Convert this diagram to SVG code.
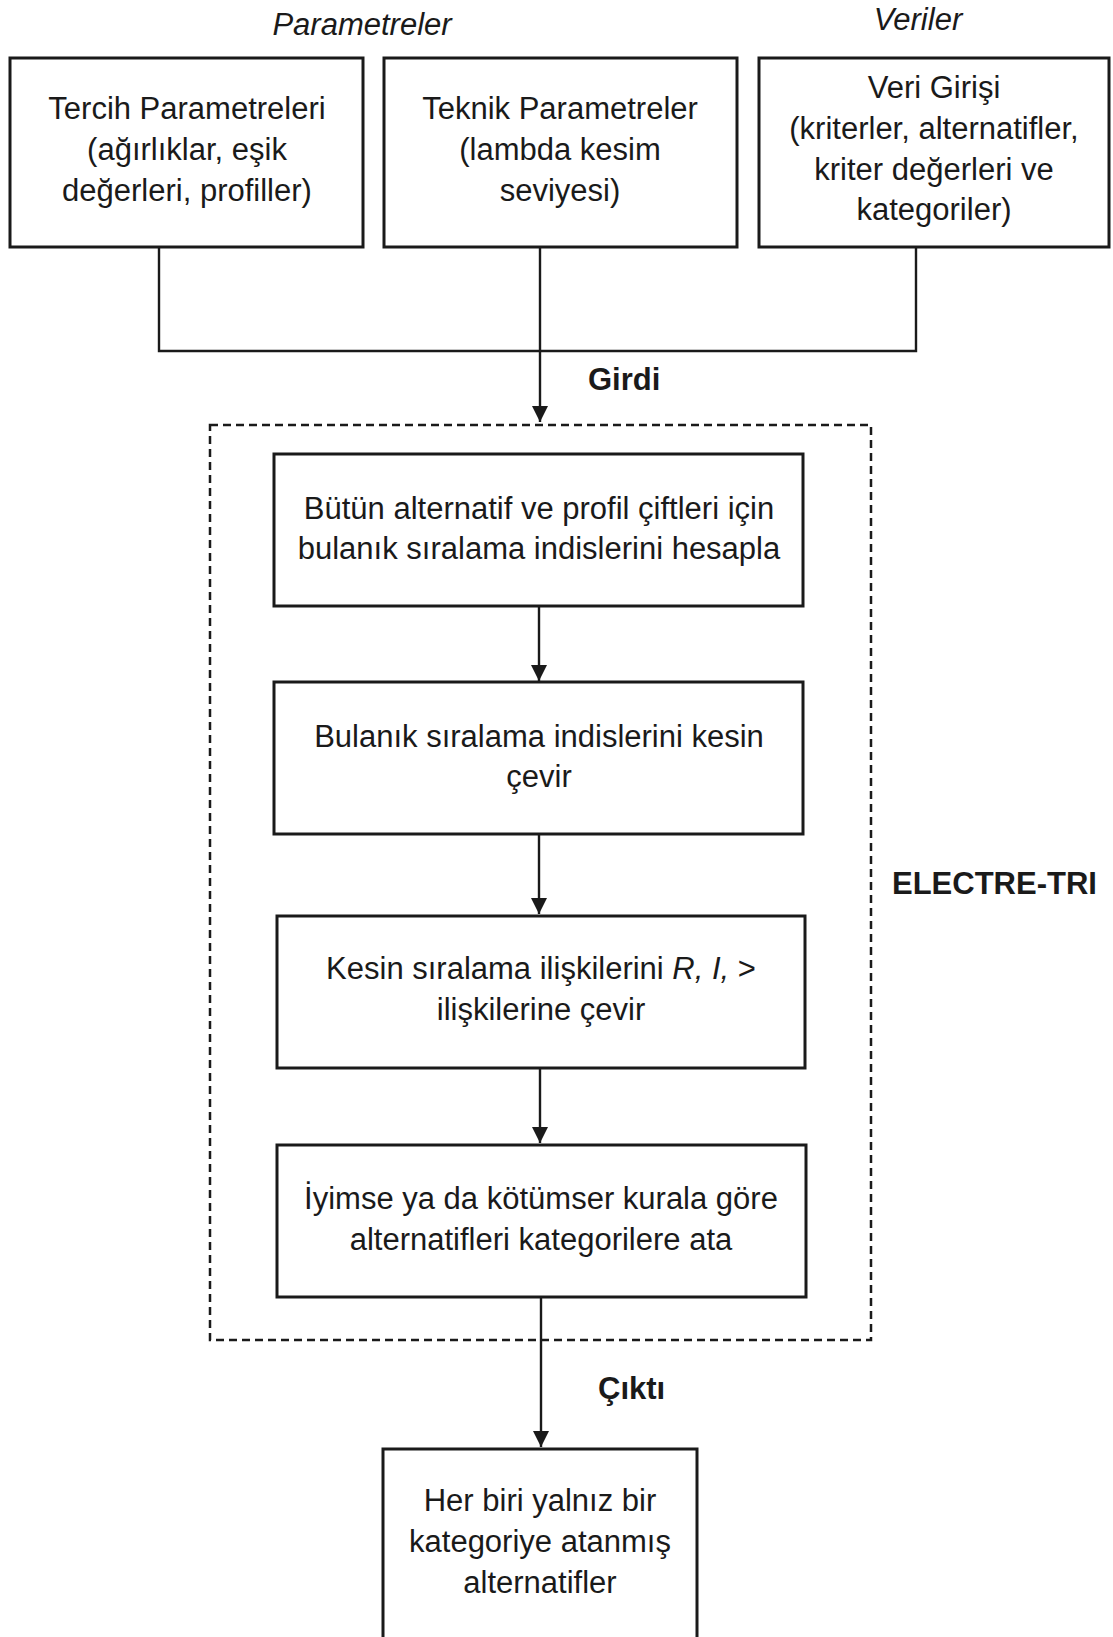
<svg xmlns="http://www.w3.org/2000/svg" width="1113" height="1637" viewBox="0 0 1113 1637">
<defs>
<style>
.box{fill:#fff;stroke:#1a1a1a;stroke-width:3}
.t{font-family:"Liberation Sans",Arial,sans-serif;font-size:31px;fill:#1a1a1a;text-anchor:middle}
.lbl{font-family:"Liberation Sans",Arial,sans-serif;font-size:31px;fill:#1a1a1a}
.it{font-style:italic}
.b{font-weight:bold}
.ln{fill:none;stroke:#1a1a1a;stroke-width:2.4}
.dash{fill:none;stroke:#1a1a1a;stroke-width:2.5;stroke-dasharray:8 5}
</style>
<marker id="ah" markerUnits="userSpaceOnUse" markerWidth="17" markerHeight="17" refX="16" refY="8" orient="auto">
<path d="M0,0 L16,8 L0,16 Z" fill="#1a1a1a"/>
</marker>
</defs>
<rect width="1113" height="1637" fill="#fff"/>

<text class="lbl it" x="362" y="35" text-anchor="middle">Parametreler</text>
<text class="lbl it" x="918" y="30" text-anchor="middle">Veriler</text>

<g id="connectors">
<path class="ln" d="M159,247 V351 H916 V247"/>
<path class="ln" d="M540,247 V422" marker-end="url(#ah)"/>
<path class="ln" d="M539,606 V681" marker-end="url(#ah)"/>
<path class="ln" d="M539,834 V914" marker-end="url(#ah)"/>
<path class="ln" d="M540,1068 V1143" marker-end="url(#ah)"/>
<path class="ln" d="M541,1297 V1447" marker-end="url(#ah)"/>
</g>

<g id="electre-tri">
<rect class="dash" x="210" y="425" width="661" height="915"/>
<text class="lbl b" x="892" y="894">ELECTRE-TRI</text>
</g>

<text class="lbl b" x="588" y="390">Girdi</text>
<text class="lbl b" x="598" y="1399">Çıktı</text>

<g id="tercih">
<rect class="box" x="10" y="58" width="353" height="189"/>
<text class="t" x="187" y="119">Tercih Parametreleri</text>
<text class="t" x="187" y="160">(ağırlıklar, eşik</text>
<text class="t" x="187" y="200.5">değerleri, profiller)</text>
</g>

<g id="teknik">
<rect class="box" x="384" y="58" width="353" height="189"/>
<text class="t" x="560" y="119">Teknik Parametreler</text>
<text class="t" x="560" y="160">(lambda kesim</text>
<text class="t" x="560" y="200.5">seviyesi)</text>
</g>

<g id="veri">
<rect class="box" x="759" y="58" width="350" height="189"/>
<text class="t" x="934" y="98">Veri Girişi</text>
<text class="t" x="934" y="139">(kriterler, alternatifler,</text>
<text class="t" x="934" y="180">kriter değerleri ve</text>
<text class="t" x="934" y="220">kategoriler)</text>
</g>

<g id="step1">
<rect class="box" x="274" y="454" width="529" height="152"/>
<text class="t" x="539" y="519">Bütün alternatif ve profil çiftleri için</text>
<text class="t" x="539" y="559">bulanık sıralama indislerini hesapla</text>
</g>

<g id="step2">
<rect class="box" x="274" y="682" width="529" height="152"/>
<text class="t" x="539" y="747">Bulanık sıralama indislerini kesin</text>
<text class="t" x="539" y="787">çevir</text>
</g>

<g id="step3">
<rect class="box" x="277" y="916" width="528" height="152"/>
<text class="t" x="541" y="979">Kesin sıralama ilişkilerini <tspan class="it">R, I,</tspan> &gt;</text>
<text class="t" x="541" y="1020">ilişkilerine çevir</text>
</g>

<g id="step4">
<rect class="box" x="277" y="1145" width="529" height="152"/>
<text class="t" x="541" y="1209">İyimse ya da kötümser kurala göre</text>
<text class="t" x="541" y="1250">alternatifleri kategorilere ata</text>
</g>

<g id="output">
<rect class="box" x="383" y="1449" width="314" height="200"/>
<text class="t" x="540" y="1511">Her biri yalnız bir</text>
<text class="t" x="540" y="1552">kategoriye atanmış</text>
<text class="t" x="540" y="1593">alternatifler</text>
</g>
</svg>
